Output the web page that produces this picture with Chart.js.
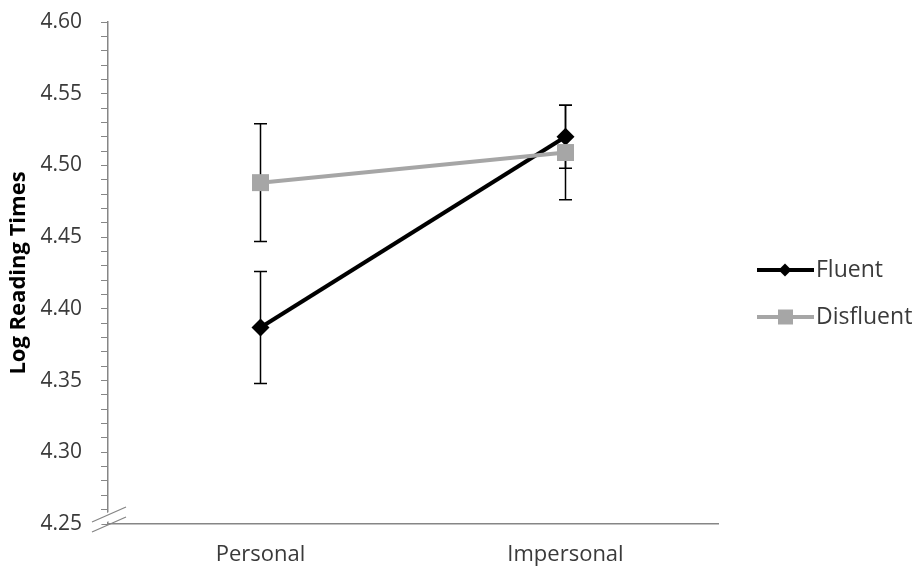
<!DOCTYPE html>
<html>
<head>
<meta charset="utf-8">
<script src="https://cdn.jsdelivr.net/npm/chart.js@4/dist/chart.umd.min.js"></script>
<style>
  html, body { margin: 0; padding: 0; background: #fff; }
  #wrap { width: 918px; height: 574px; position: relative; }
</style>
</head>
<body>
<div id="wrap"><canvas id="c" width="918" height="574"></canvas></div>
<script>
const categories = ['Personal', 'Impersonal'];
const fluentValues = [4.387, 4.520];
const fluentErrors = [0.039, 0.022];
const disfluentValues = [4.488, 4.509];
const disfluentErrors = [0.041, 0.033];
const yMin = 4.25, yMax = 4.60, yStep = 0.01;
const yTitle = 'Log Reading Times';

const FONT = "'Open Sans', 'DejaVu Sans', sans-serif";
const AXIS = '#868686';
const TEXT = '#3a3a3a';

const errorBars = {
  id: 'errorBars',
  beforeDatasetsDraw(chart) {
    const ctx = chart.ctx;
    const ys = chart.scales.y;
    ctx.save();
    ctx.strokeStyle = '#000';
    ctx.lineWidth = 1.5;
    chart.data.datasets.forEach((ds, di) => {
      const meta = chart.getDatasetMeta(di);
      ds.errors.forEach((e, i) => {
        const pt = meta.data[i];
        const x = pt.x;
        const top = ys.getPixelForValue(ds.data[i] + e);
        const bot = ys.getPixelForValue(ds.data[i] - e);
        ctx.beginPath();
        ctx.moveTo(x, top); ctx.lineTo(x, bot);
        ctx.moveTo(x - 6.5, top); ctx.lineTo(x + 6.5, top);
        ctx.moveTo(x - 6.5, bot); ctx.lineTo(x + 6.5, bot);
        ctx.stroke();
      });
    });
    ctx.restore();
  }
};

const decorations = {
  id: 'decorations',
  afterDraw(chart) {
    const ctx = chart.ctx;
    const a = chart.chartArea;
    const x0 = a.left;
    const yb = a.bottom;
    ctx.save();
    // axis break
    ctx.fillStyle = '#fff';
    ctx.beginPath();
    ctx.moveTo(x0 - 10, yb + 2);
    ctx.lineTo(x0 + 10, yb - 7);
    ctx.lineTo(x0 + 10, yb - 16);
    ctx.lineTo(x0 - 10, yb - 7);
    ctx.closePath();
    ctx.fill();
    ctx.strokeStyle = AXIS;
    ctx.lineWidth = 1.3;
    ctx.beginPath();
    ctx.moveTo(x0 - 16, yb - 2); ctx.lineTo(x0 + 18, yb - 17);
    ctx.moveTo(x0 - 16, yb + 8); ctx.lineTo(x0 + 18, yb - 7);
    ctx.stroke();

    // legend
    const items = [
      { style: 'diamond', y: 270 },
      { style: 'square', y: 317 }
    ];
    items.forEach((it, i) => {
      const ds = chart.data.datasets[i];
      ctx.strokeStyle = ds.borderColor;
      ctx.lineWidth = 4;
      ctx.beginPath();
      ctx.moveTo(757, it.y); ctx.lineTo(814, it.y);
      ctx.stroke();
      ctx.fillStyle = ds.backgroundColor;
      ctx.beginPath();
      if (it.style === 'diamond') {
        ctx.moveTo(785, it.y - 6.5); ctx.lineTo(791.5, it.y); ctx.lineTo(785, it.y + 6.5); ctx.lineTo(778.5, it.y);
        ctx.closePath();
      } else {
        ctx.rect(778, it.y - 7.5, 15, 15);
      }
      ctx.fill();
      ctx.fillStyle = TEXT;
      ctx.font = "23px " + FONT;
      ctx.textBaseline = 'middle';
      ctx.textAlign = 'left';
      ctx.fillText(ds.label, 816, it.y);
    });
    ctx.restore();
  }
};

new Chart(document.getElementById('c'), {
  type: 'line',
  data: {
    labels: categories,
    datasets: [
      {
        label: 'Fluent',
        data: fluentValues,
        errors: fluentErrors,
        borderColor: '#000',
        backgroundColor: '#000',
        borderWidth: 4,
        pointStyle: 'rectRot',
        pointRadius: 9,
        pointBorderWidth: 0,
        order: 1
      },
      {
        label: 'Disfluent',
        data: disfluentValues,
        errors: disfluentErrors,
        borderColor: '#a6a6a6',
        backgroundColor: '#a6a6a6',
        borderWidth: 4,
        pointStyle: 'rect',
        pointRadius: 12,
        pointBorderWidth: 0,
        order: 0
      }
    ]
  },
  options: {
    responsive: false,
    animation: false,
    devicePixelRatio: 1,
    layout: { padding: { top: 22, right: 200, left: 0, bottom: 0 } },
    plugins: { legend: { display: false }, tooltip: { enabled: false } },
    scales: {
      x: {
        offset: true,
        grid: { display: true, drawOnChartArea: false, drawTicks: false, color: AXIS },
        border: { display: true, color: AXIS, width: 1.5 },
        ticks: { color: TEXT, font: { family: FONT, size: 22 }, padding: 18 },
        afterFit(s) { s.height = 50; }
      },
      y: {
        min: yMin, max: yMax,
        grid: { display: true, drawOnChartArea: false, drawTicks: true, tickLength: 7, color: AXIS, lineWidth: 1 },
        border: { display: true, color: AXIS, width: 1.5 },
        ticks: {
          stepSize: yStep,
          autoSkip: false,
          color: TEXT,
          font: { family: FONT, size: 21 },
          padding: 19,
          callback(v) {
            const r = Math.round(v * 100);
            return r % 5 === 0 ? (r / 100).toFixed(2) : '';
          }
        },
        title: { display: true, text: yTitle, color: '#000', font: { family: FONT, size: 22, weight: 'bold' }, padding: { top: 6, bottom: 4 } },
        afterFit(s) { s.width = 108; s.paddingTop = 0; s.paddingBottom = 0; }
      }
    }
  },
  plugins: [errorBars, decorations]
});
</script>
</body>
</html>
